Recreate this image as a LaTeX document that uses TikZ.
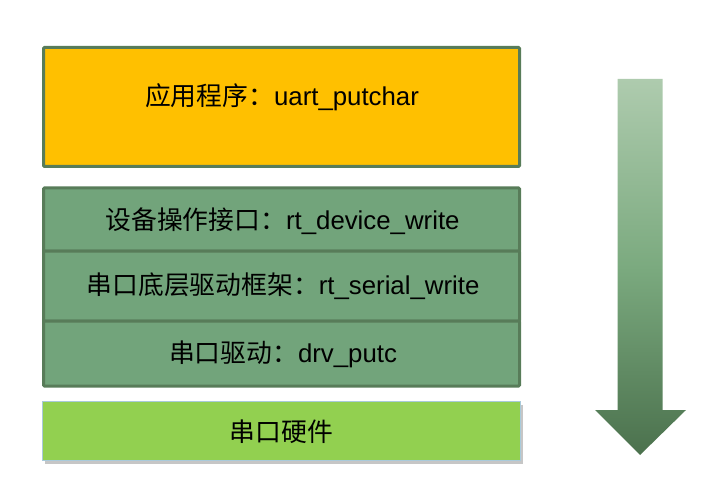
\documentclass[tikz,border=0pt]{standalone}
\usepackage{fontspec}
\setmainfont{Liberation Sans}
\newfontfamily\cjk{Noto Sans CJK SC}
\usetikzlibrary{shadows,shadings}
\definecolor{orangefill}{HTML}{FFC000}
\definecolor{greenfill}{HTML}{72A47B}
\definecolor{greenborder}{HTML}{587C59}
\definecolor{hwfill}{HTML}{92D050}
\definecolor{hwborder}{HTML}{A9CADB}
\definecolor{arrowtop}{HTML}{AECBAE}
\definecolor{arrowmid}{HTML}{7BAA7F}
\definecolor{arrowbot}{HTML}{4B714D}
\tikzset{
  layerbox/.style={draw=greenborder, line width=3pt, rounded corners=1pt, minimum width=476pt, inner sep=0pt, outer sep=0pt},
  lbl/.style={font=\fontsize{25.8}{30}\selectfont, text=black, inner sep=0pt, anchor=center},
}
\begin{document}
\begin{tikzpicture}[x=1pt,y=-1pt]
\useasboundingbox (0,0) rectangle (709,489);
% application box
\node[layerbox, fill=orangefill, minimum height=119pt] (app) at (281.5,107) {};
\node[lbl] (applbl) at (282,97) {{\cjk 应用程序：}uart\_putchar};
% green stack
\node[layerbox, fill=greenfill, minimum height=63pt] (dev) at (281.5,219.5) {};
\node[layerbox, fill=greenfill, minimum height=70pt] (ser) at (281.5,286) {};
\node[layerbox, fill=greenfill, minimum height=65pt] (drv) at (281.5,353.5) {};
\node[lbl] (devlbl) at (282.5,221) {{\cjk 设备操作接口：}rt\_device\_write};
\node[lbl] (serlbl) at (283,286) {{\cjk 串口底层驱动框架：}rt\_serial\_write};
\node[lbl] (drvlbl) at (283,354) {{\cjk 串口驱动：}drv\_putc};
% hardware
\node[draw=hwborder, line width=1.5pt, fill=hwfill, minimum width=478pt, minimum height=59pt,
      inner sep=0pt, drop shadow={opacity=0.45, shadow xshift=2pt, shadow yshift=-3pt}] (hw) at (281.5,431) {};
\node[lbl] (hwlbl) at (281.5,432) {\cjk 串口硬件};
% arrow
\path[top color=arrowtop, bottom color=arrowbot, middle color=arrowmid]
  (617.5,79) -- (662.5,79) -- (662.5,410) -- (686,410) -- (640,455) -- (595,410) -- (617.5,410) -- cycle;
\end{tikzpicture}
\end{document}
